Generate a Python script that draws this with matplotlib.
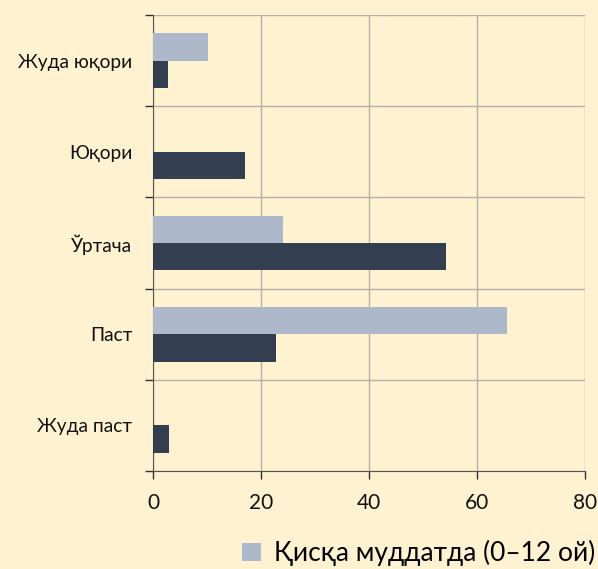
import matplotlib.pyplot as plt
from matplotlib.patches import Patch

# data
categories = ["Жуда юқори", "Юқори", "Ўртача", "Паст", "Жуда паст"]
short_term = [10.2, 0, 24.1, 65.5, 0]
long_term = [2.8, 17.0, 54.3, 22.8, 2.9]
short_label = "Қисқа муддатда (0–12 ой)"
x_ticks = [0, 20, 40, 60, 80]

bg = "#FFF2D1"
light = "#ADB9CA"
dark = "#333F50"
grid_col = "#B5B0A4"

plt.rcParams["font.family"] = ["Lato", "DejaVu Sans"]

fig = plt.figure(figsize=(5.98, 5.69), dpi=100, facecolor=bg)
ax = fig.add_axes([0.2559, 0.1722, 0.7229, 0.8014])
ax.set_facecolor(bg)

y = list(range(len(categories)))
h = 0.3
ax.barh([i - h / 2 for i in y], short_term, height=h, color=light, zorder=3)
ax.barh([i + h / 2 for i in y], long_term, height=h, color=dark, zorder=3)

ax.set_xlim(0, 80)
ax.set_ylim(len(categories) - 0.5, -0.5)

# category boundaries carry ticks and gridlines, labels sit at centres
ax.set_yticks([i - 0.5 for i in range(len(categories) + 1)])
ax.set_yticklabels([])
ax.set_yticks(y, minor=True)
ax.set_yticklabels(categories, minor=True, fontsize=13.8, color="#111111")
ax.tick_params(axis="y", which="minor", length=0, pad=15)
ax.tick_params(axis="y", which="major", length=6, width=1, color="#333333")

ax.set_xticks(x_ticks)
ax.set_xticklabels([str(v) for v in x_ticks], fontsize=15, color="#111111")
ax.tick_params(axis="x", length=6, width=1, color="#333333", pad=10)

ax.grid(True, which="major", color=grid_col, linewidth=1, zorder=0)
ax.set_axisbelow(True)

for side in ["top", "right"]:
    ax.spines[side].set_visible(False)
ax.spines["left"].set_color("#555555")
ax.spines["bottom"].set_color("#555555")

handles = [Patch(facecolor=light, edgecolor="none", label=short_label)]
fig.legend(handles=handles, loc="center right", bbox_to_anchor=(0.995, 0.028),
           frameon=False, fontsize=19, handlelength=0.7, handleheight=0.7,
           handletextpad=0.5, borderpad=0, borderaxespad=0)

fig.savefig("out.png", dpi=100, facecolor=bg)
